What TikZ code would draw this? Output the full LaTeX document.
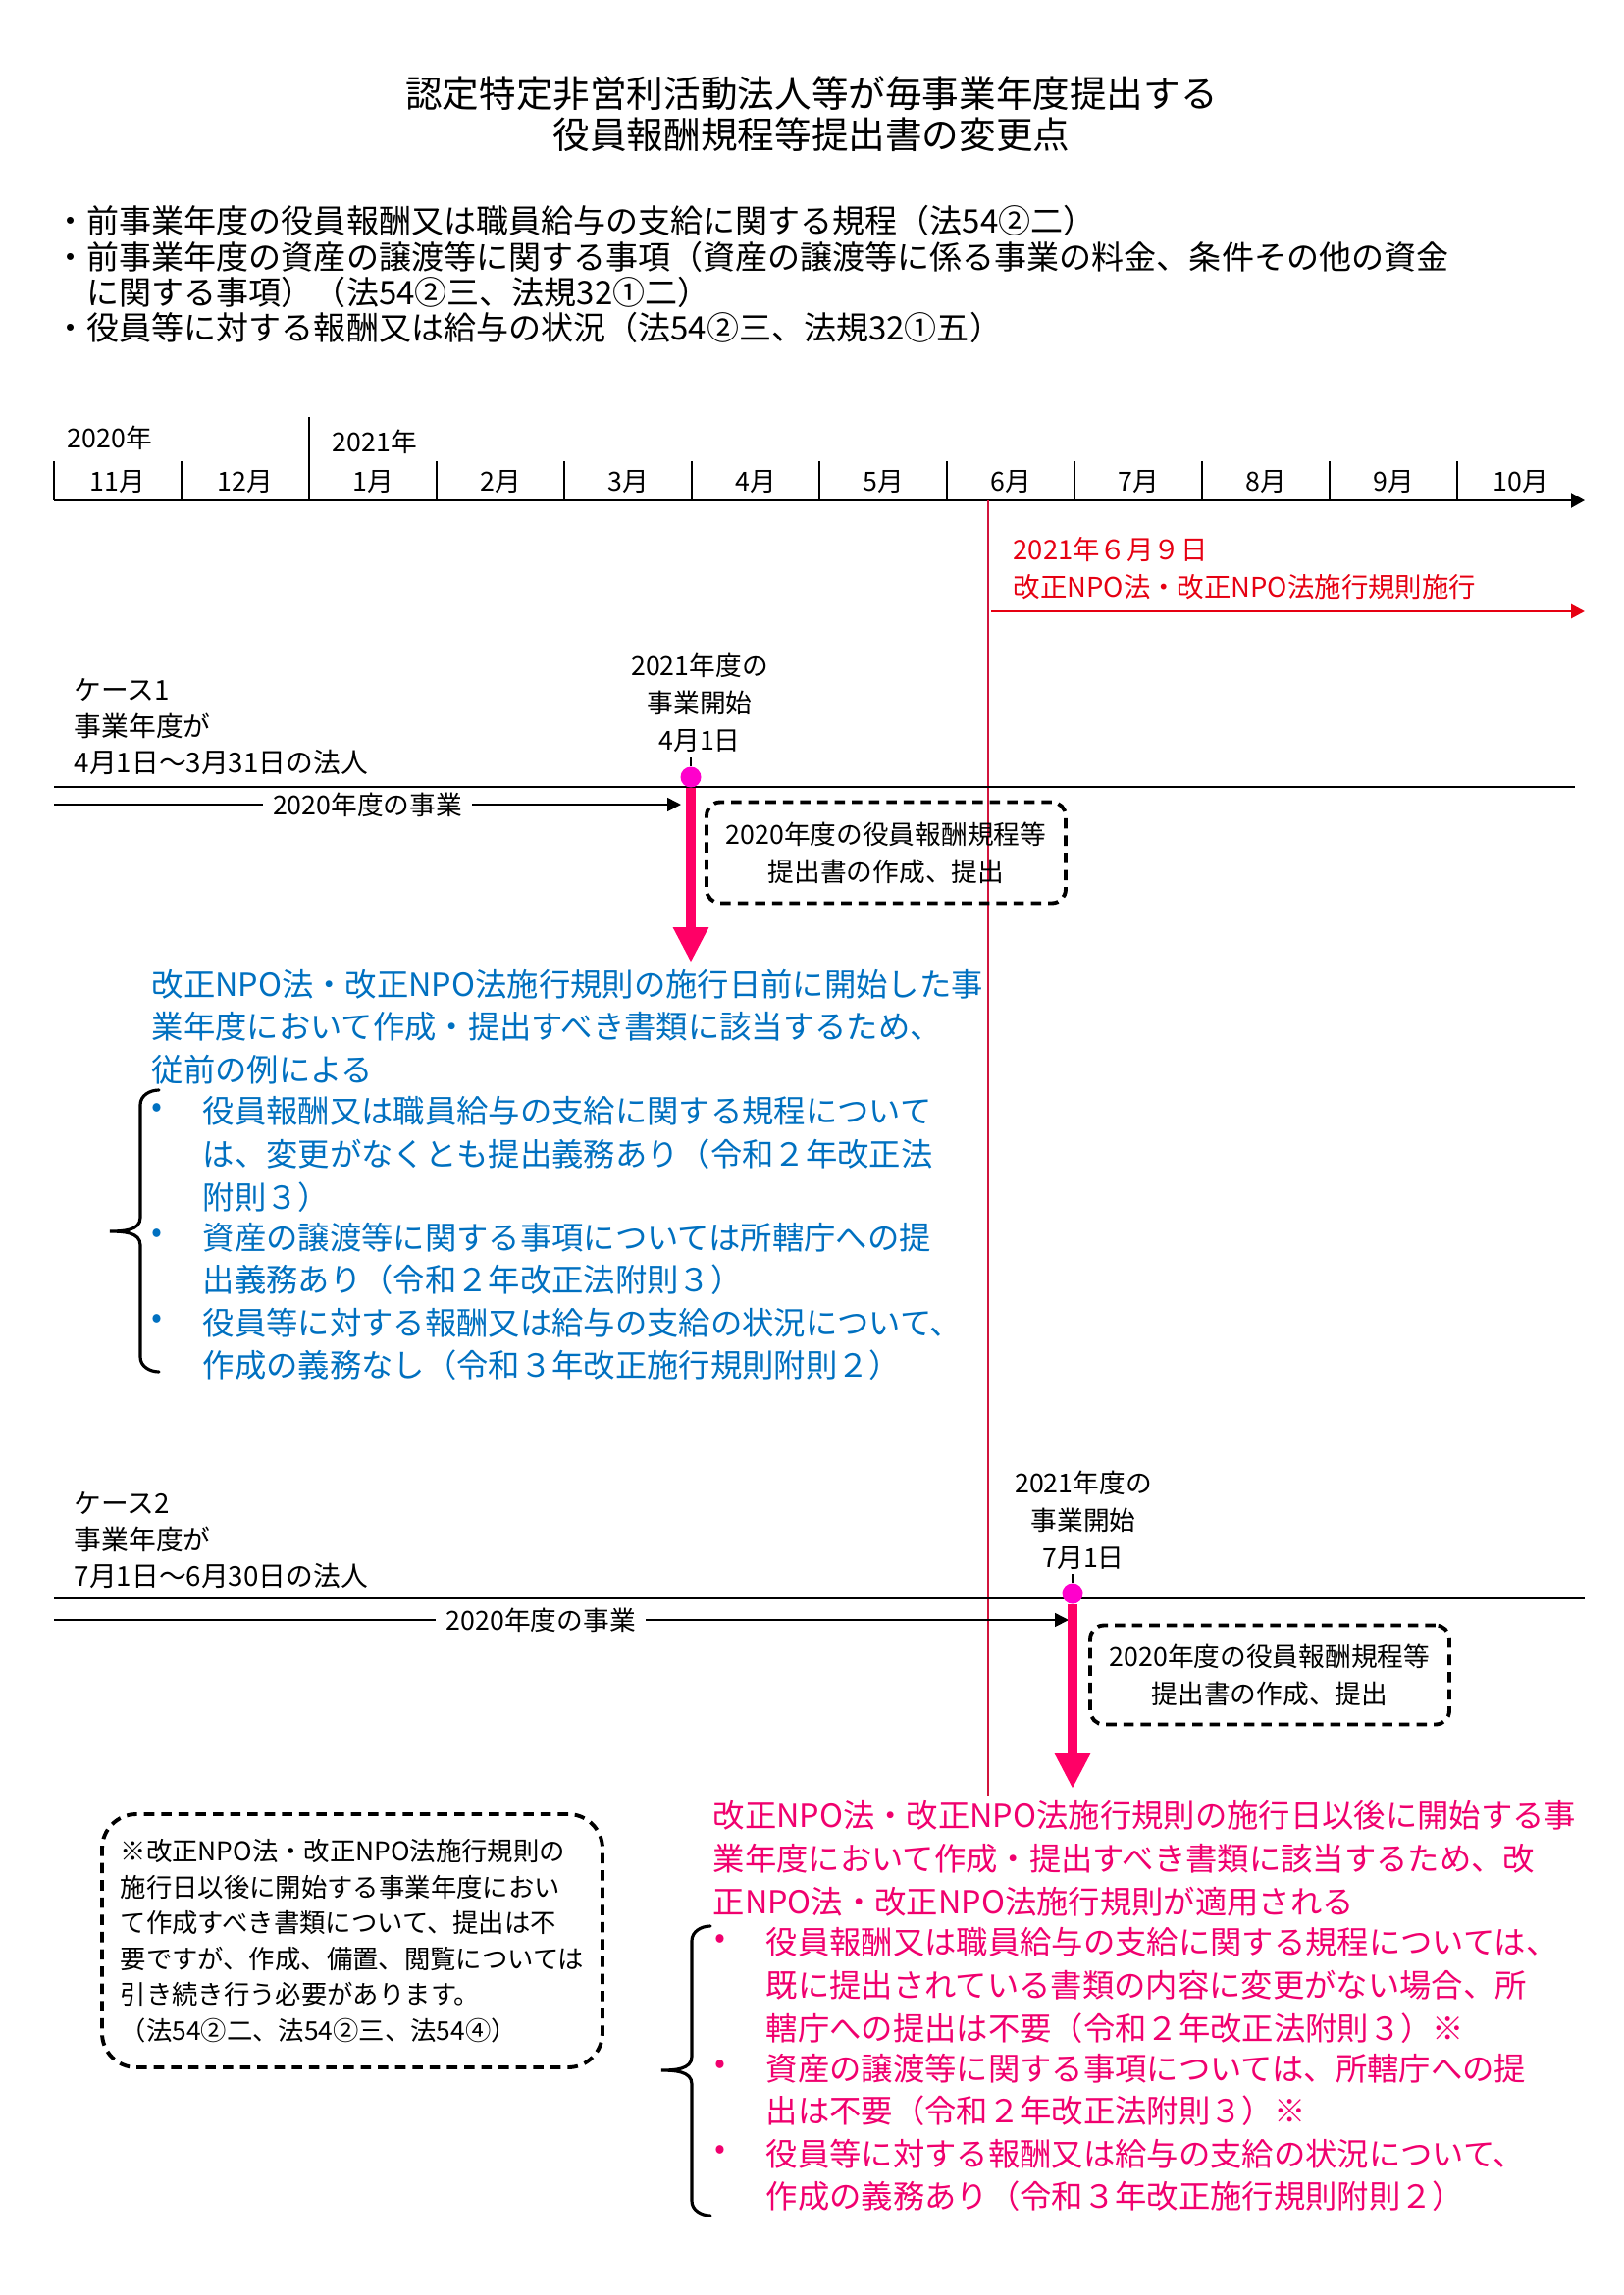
\documentclass[tikz,border=0pt]{standalone}
\usepackage{fontspec}
\setmainfont{Noto Sans CJK JP}
\usetikzlibrary{arrows.meta}

\definecolor{lawRed}{RGB}{230,0,18}
\definecolor{lawLine}{RGB}{210,20,60}
\definecolor{oldBlue}{RGB}{0,112,192}
\definecolor{newPink}{RGB}{240,0,110}
\definecolor{markPink}{RGB}{255,0,102}
\definecolor{markDot}{RGB}{255,0,204}

\begin{document}
\begin{tikzpicture}[x=0.1mm, y=-0.1mm,
  lbl/.style={font=\fontsize{7.6}{10.8}\selectfont, inner sep=0pt},
  body/.style={font=\fontsize{9.2}{12.4}\selectfont, align=left, anchor=north west, inner sep=0pt},
  dashbox/.style={draw, line width=1.1pt, dash pattern=on 3pt off 2pt, rounded corners=4pt},
  markline/.style={draw=markPink, line width=2.85pt, -{Triangle[length=3.6mm,width=3.4mm]}},
  period/.style={line width=0.45pt, -{Triangle[length=1.4mm,width=1.4mm]}},
  bracel/.style={line width=0.9pt, line cap=round},
  dot/.style={font=\fontsize{9.2}{12.4}\selectfont, inner sep=0pt}]
  \useasboundingbox (0,0) rectangle (1654,2339);

  % title and header
  \node[font=\fontsize{10.7}{12}\selectfont, align=center, anchor=north, inner sep=0pt] (title) at (827,77)
    {認定特定非営利活動法人等が毎事業年度提出する\\役員報酬規程等提出書の変更点};
  \node[font=\fontsize{9.4}{10.3}\selectfont, align=left, anchor=north west, inner sep=0pt] (items) at (55,209)
    {・前事業年度の役員報酬又は職員給与の支給に関する規程（法54②二）\\
     ・前事業年度の資産の譲渡等に関する事項（資産の譲渡等に係る事業の料金、条件その他の資金\\
     \hspace*{1em}に関する事項）（法54②三、法規32①二）\\
     ・役員等に対する報酬又は給与の状況（法54②三、法規32①五）};

  % month axis
  \coordinate (axL) at (55,510);
  \coordinate (axR) at (1615,510);
  \draw[line width=0.6pt, -{Triangle[length=1.4mm,width=1.5mm]}] (axL) -- (axR);
  \foreach \m [count=\i from 0] in {11,12,1,2,3,4,5,6,7,8,9,10} {
    \draw[line width=0.6pt] ({55+130*\i},470) -- ({55+130*\i},510);
    \node[lbl] (m\i) at ({120+130*\i},491) {\m{}月};
  }
  \draw[line width=0.6pt] (315,425) -- (315,470);
  \node[lbl, anchor=west] (y2020) at (68,446) {2020年};
  \node[lbl, anchor=west] (y2021) at (338,450) {2021年};

  % enforcement date
  \coordinate (lawTop) at (1007,510);
  \coordinate (lawBot) at (1007,1830);
  \draw[lawLine, line width=0.4pt] (lawTop) -- (lawBot);
  \node[font=\fontsize{7.8}{10.8}\selectfont, text=lawRed, align=left, anchor=north west, inner sep=0pt] (lawDate) at (1032,547)
    {2021年６月９日\\改正NPO法・改正NPO法施行規則施行};
  \coordinate (lawL) at (1010,623);
  \coordinate (lawR) at (1615,623);
  \draw[lawRed, line width=0.8pt, -{Triangle[length=1.4mm,width=1.4mm]}] (lawL) -- (lawR);

  % case 1
  \node[lbl, font=\fontsize{7.9}{10.5}\selectfont, align=left, anchor=north west] (caseA) at (75,691)
    {ケース1\\事業年度が\\4月1日～3月31日の法人};
  \coordinate (aL) at (55,802);
  \coordinate (aR) at (1605,802);
  \draw[line width=0.5pt] (aL) -- (aR);
  \coordinate (aRunL) at (55,820);
  \coordinate (aRunR) at (694,820);
  \draw[period] (aRunL) -- node[lbl, fill=white, inner xsep=3pt] (aRun) {2020年度の事業} (aRunR);
  \node[lbl, align=center] (aBegin) at (713,716) {2021年度の\\事業開始\\4月1日};
  \coordinate (aTick) at (704,772);
  \node[circle, fill=markDot, minimum size=2.1mm, inner sep=0pt] (aStart) at (704,792) {};
  \draw[line width=0.8pt] (aTick) -- (aStart.north);
  \coordinate (aDown) at (704,981);
  \draw[markline] (aStart) -- (aDown);
  \node[dashbox, lbl, align=center, minimum width=36.6mm, minimum height=10.3mm] (aDoc) at (903,869)
    {2020年度の役員報酬規程等\\提出書の作成、提出};
  \node[body, text=oldBlue] (aRule) at (154,987)
    {改正NPO法・改正NPO法施行規則の施行日前に開始した事\\業年度において作成・提出すべき書類に該当するため、\\従前の例による};
  \foreach \y/\n in {1132/1,1260/2,1347/3}
    \node[dot, text=oldBlue] (aDot\n) at (160,\y) {•};
  \node[body, text=oldBlue] (aItem1) at (206,1117)
    {役員報酬又は職員給与の支給に関する規程について\\は、変更がなくとも提出義務あり（令和２年改正法\\附則３）};
  \node[body, text=oldBlue] (aItem2) at (206,1245)
    {資産の譲渡等に関する事項については所轄庁への提\\出義務あり（令和２年改正法附則３）};
  \node[body, text=oldBlue] (aItem3) at (206,1332)
    {役員等に対する報酬又は給与の支給の状況について、\\作成の義務なし（令和３年改正施行規則附則２）};
  % brace round the three items
  \coordinate (aBrT) at (162,1111);
  \coordinate (aBrB) at (162,1398);
  \coordinate (aBrTip) at (112,1255);
  \draw[bracel] (aBrT) to[out=180,in=90] (143,1126) -- (143,1241) to[out=-90,in=0] (aBrTip)
    to[out=0,in=90] (143,1269) -- (143,1383) to[out=-90,in=180] (aBrB);

  % case 2
  \node[lbl, font=\fontsize{7.9}{10.5}\selectfont, align=left, anchor=north west] (caseB) at (75,1520)
    {ケース2\\事業年度が\\7月1日～6月30日の法人};
  \coordinate (bL) at (55,1629);
  \coordinate (bR) at (1615,1629);
  \draw[line width=0.5pt] (bL) -- (bR);
  \coordinate (bRunL) at (55,1651);
  \coordinate (bRunR) at (1089,1651);
  \draw[period] (bRunL) -- node[lbl, fill=white, inner xsep=3pt, pos=0.48] (bRun) {2020年度の事業} (bRunR);
  \node[lbl, align=center] (bBegin) at (1104,1549) {2021年度の\\事業開始\\7月1日};
  \coordinate (bTick) at (1093,1604);
  \node[circle, fill=markDot, minimum size=2.1mm, inner sep=0pt] (bStart) at (1093,1624) {};
  \draw[line width=0.8pt] (bTick) -- (bStart.north);
  \coordinate (bDown) at (1093,1823);
  \draw[markline] (bStart) -- (bDown);
  \node[dashbox, lbl, align=center, minimum width=36.6mm, minimum height=10.1mm] (bDoc) at (1294,1707)
    {2020年度の役員報酬規程等\\提出書の作成、提出};
  \node[body, text=newPink] (bRule) at (726,1835)
    {改正NPO法・改正NPO法施行規則の施行日以後に開始する事\\業年度において作成・提出すべき書類に該当するため、改\\正NPO法・改正NPO法施行規則が適用される};
  \foreach \y/\n in {1979/1,2107/2,2194/3}
    \node[dot, text=newPink] (bDot\n) at (734,\y) {•};
  \node[body, text=newPink] (bItem1) at (780,1964)
    {役員報酬又は職員給与の支給に関する規程については、\\既に提出されている書類の内容に変更がない場合、所\\轄庁への提出は不要（令和２年改正法附則３）※};
  \node[body, text=newPink] (bItem2) at (780,2092)
    {資産の譲渡等に関する事項については、所轄庁への提\\出は不要（令和２年改正法附則３）※};
  \node[body, text=newPink] (bItem3) at (780,2179)
    {役員等に対する報酬又は給与の支給の状況について、\\作成の義務あり（令和３年改正施行規則附則２）};
  % brace round the three items
  \coordinate (bBrT) at (724,1963);
  \coordinate (bBrB) at (724,2258);
  \coordinate (bBrTip) at (674,2110);
  \draw[bracel] (bBrT) to[out=180,in=90] (705,1978) -- (705,2096) to[out=-90,in=0] (bBrTip)
    to[out=0,in=90] (705,2124) -- (705,2243) to[out=-90,in=180] (bBrB);

  % note on documents after the enforcement date
  \node[dashbox, rounded corners=3.5mm, font=\fontsize{7.5}{10.4}\selectfont, align=left,
        minimum width=51mm, minimum height=25.8mm] (note) at (359,1978)
    {※改正NPO法・改正NPO法施行規則の\\施行日以後に開始する事業年度におい\\て作成すべき書類について、提出は不\\要ですが、作成、備置、閲覧については\\引き続き行う必要があります。\\（法54②二、法54②三、法54④）};
\end{tikzpicture}
\end{document}
